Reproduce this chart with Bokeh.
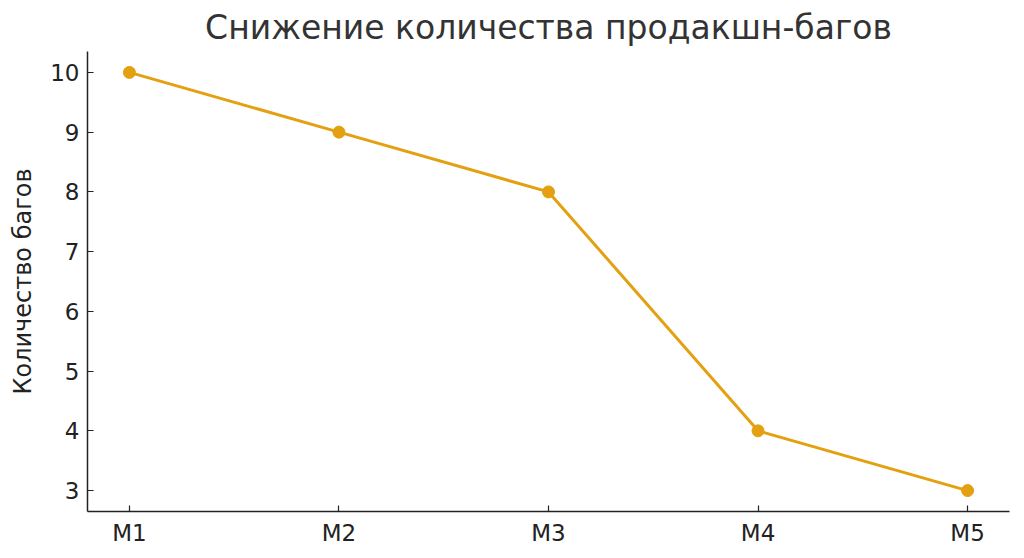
from bokeh.plotting import figure
from bokeh.models import FixedTicker, Range1d
from bokeh.embed import file_html
from bokeh.resources import INLINE

categories = ["M1", "M2", "M3", "M4", "M5"]
bugs = [10, 9, 8, 4, 3]
y_ticks = [3, 4, 5, 6, 7, 8, 9, 10]

xs = list(range(len(categories)))
color = "#E3A010"
font = "DejaVu Sans"

p = figure(width=1016, height=550, output_backend="svg", toolbar_location=None,
           x_range=Range1d(-0.2, len(categories) - 1 + 0.2),
           y_range=Range1d(2.65, 10.35),
           title="Снижение количества продакшн-багов")
p.min_border_left = 87
p.min_border_right = 7
p.min_border_top = 12
p.min_border_bottom = 39

p.title.text_font = font
p.title.text_font_size = "33px"
p.title.text_font_style = "normal"
p.title.text_color = "#333333"
p.title.align = "center"

p.line(xs, bugs, line_color=color, line_width=3)
p.scatter(xs, bugs, size=12, fill_color=color, line_color=color)

p.grid.visible = False
p.outline_line_color = None
p.background_fill_color = "white"
p.border_fill_color = "white"

p.xaxis.ticker = FixedTicker(ticks=xs)
p.xaxis.major_label_overrides = {i: c for i, c in enumerate(categories)}
p.yaxis.ticker = FixedTicker(ticks=y_ticks)
p.yaxis.axis_label = "Количество багов"

for ax in (p.xaxis, p.yaxis):
    ax.major_tick_in = 6
    ax.major_tick_out = 0
    ax.minor_tick_in = 0
    ax.minor_tick_out = 0
    ax.axis_line_color = "#222222"
    ax.axis_line_width = 1.5
    ax.major_tick_line_color = "#222222"
    ax.major_tick_line_width = 1.2
    ax.major_label_text_font = font
    ax.major_label_text_font_size = "23px"
    ax.major_label_text_color = "#222222"
    ax.major_label_standoff = 8
    ax.axis_label_text_font = font
    ax.axis_label_text_font_size = "24px"
    ax.axis_label_text_font_style = "normal"
    ax.axis_label_text_color = "#222222"

p.yaxis.axis_label_standoff = 10

open("out.html", "w").write(file_html(p, INLINE))
